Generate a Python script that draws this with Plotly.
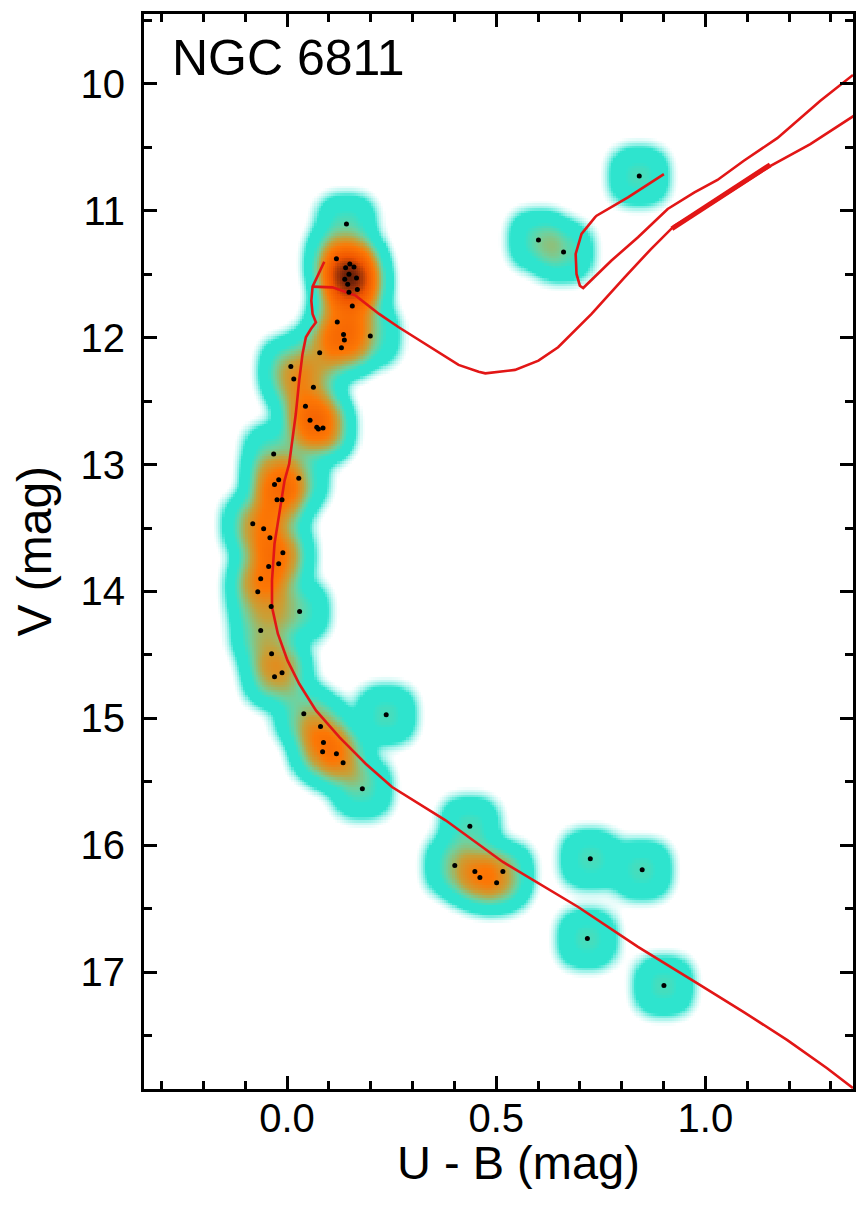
import numpy as np
import plotly.graph_objects as go

# ---------------- data ----------------
# member stars (U-B, V)
star_ub = [0.142, 0.118, 0.160, 0.166, 0.168, 0.148, 0.156, 0.120, 0.135, 0.137,
           0.130, 0.199, 0.078, 0.009, 0.016, 0.063, 0.044, 0.055, 0.071, 0.075,
           0.086, -0.032, -0.020, 0.028, -0.030, -0.024, -0.012, -0.082, -0.056, -0.041,
           -0.010, -0.020, -0.044, -0.063, -0.070, -0.038, 0.030, -0.063, -0.037, -0.012,
           -0.030, 0.040, 0.237, 0.080, 0.087, 0.085, 0.118, 0.134, 0.180,
           0.437, 0.401, 0.449, 0.461, 0.516, 0.501, 0.725, 0.849, 0.718, 0.901,
           0.842, 0.601, 0.661,
           0.140, 0.148, 0.138, 0.150, 0.145]
star_v = [11.105, 11.378, 11.443, 11.530, 11.620, 11.643, 11.750, 11.877, 11.976, 12.018,
          12.080, 11.987, 12.120, 12.228, 12.325, 12.390, 12.540, 12.650, 12.706, 12.720,
          12.711, 12.916, 13.120, 13.108, 13.157, 13.278, 13.278, 13.467, 13.506, 13.577,
          13.695, 13.782, 13.803, 13.900, 14.003, 14.118, 14.157, 14.307, 14.490, 14.640,
          14.672, 14.963, 14.971, 15.063, 15.189, 15.262, 15.278, 15.350, 15.554,
          15.850, 16.160, 16.207, 16.254, 16.207, 16.294, 16.105, 16.192, 16.735, 17.105,
          10.727, 11.231, 11.325,
          11.450, 11.500, 11.540, 11.420, 11.580]

# isochrone: main sequence + turn-off hook
iso_ms_ub = [1.353, 1.291, 1.196, 1.090, 0.982, 0.839, 0.696, 0.516, 0.379, 0.315,
             0.251, 0.188, 0.125, 0.069, 0.029, 0.001, -0.022, -0.036, -0.036, -0.030,
             -0.014, -0.006, 0.005, 0.010, 0.021, 0.029, 0.037, 0.045, 0.057, 0.069,
             0.061, 0.058, 0.059, 0.061, 0.089]
iso_ms_v = [17.913, 17.756, 17.535, 17.310, 17.089, 16.800, 16.486, 16.131, 15.803, 15.672,
            15.541, 15.357, 15.147, 14.937, 14.727, 14.543, 14.333, 14.123, 13.913, 13.624,
            13.310, 13.126, 12.995, 12.863, 12.600, 12.339, 12.128, 11.997, 11.932, 11.880,
            11.813, 11.709, 11.630, 11.598, 11.402]
# subgiant + red giant branch
iso_rgb_ub = [0.061, 0.109, 0.164, 0.220, 0.267, 0.340, 0.410, 0.458, 0.474, 0.545,
              0.601, 0.648, 0.728, 0.807, 0.870, 0.926, 1.013, 1.156, 1.251, 1.355]
iso_rgb_v = [11.598, 11.604, 11.669, 11.813, 11.918, 12.070, 12.215, 12.268, 12.281, 12.254,
             12.181, 12.076, 11.813, 11.525, 11.302, 11.118, 10.948, 10.646, 10.475, 10.252]
# core helium burning loop
iso_he_ub = [1.353, 1.275, 1.172, 1.092, 1.029, 0.974, 0.910, 0.839, 0.775, 0.708,
             0.700, 0.692, 0.690, 0.704, 0.736, 0.740, 0.815, 0.901]
iso_he_v = [9.930, 10.134, 10.428, 10.606, 10.758, 10.856, 10.986, 11.209, 11.394, 11.609,
            11.591, 11.498, 11.341, 11.183, 11.052, 11.039, 10.895, 10.711]
# early AGB (overlapping, thick)
iso_agb_ub = [0.920, 1.040, 1.155]
iso_agb_v = [11.142, 10.880, 10.638]

x_range = [-0.342, 1.353]
y_range = [17.92, 9.45]

# ---------------- density map from the stars ----------------
sx, sy = 0.0448, 0.148
gx = np.linspace(x_range[0], x_range[1], 340)
gy = np.linspace(y_range[1], y_range[0], 430)
GX, GY = np.meshgrid(gx, gy)
Z = np.zeros_like(GX)
for xu, yv in zip(star_ub, star_v):
    Z += np.exp(-0.5 * (np.abs((GX - xu) / sx) ** 2.5 + np.abs((GY - yv) / sy) ** 2.5))

zmax = max(float(Z.max()), 10.0)
stops = [(0.0, "rgb(255,255,255)"), (0.04, "rgb(255,255,255)"), (0.12, "rgb(180,245,238)"),
         (0.25, "rgb(46,228,206)"), (0.8, "rgb(46,228,206)"), (1.3, "rgb(110,210,160)"),
         (2.2, "rgb(200,160,55)"), (3.3, "rgb(252,120,5)"), (5.8, "rgb(240,85,0)"),
         (8.2, "rgb(130,40,10)"), (zmax, "rgb(35,10,0)")]
colorscale = [[t / zmax, c] for t, c in stops]

fig = go.Figure()
fig.add_trace(go.Heatmap(x=gx, y=gy, z=Z, colorscale=colorscale, zmin=0, zmax=zmax,
                         showscale=False, hoverinfo="skip"))

red = "rgb(226,22,22)"
fig.add_trace(go.Scatter(x=iso_ms_ub, y=iso_ms_v, mode="lines", line=dict(color=red, width=2.6)))
fig.add_trace(go.Scatter(x=iso_rgb_ub, y=iso_rgb_v, mode="lines", line=dict(color=red, width=2.6)))
fig.add_trace(go.Scatter(x=iso_he_ub, y=iso_he_v, mode="lines", line=dict(color=red, width=2.6)))
fig.add_trace(go.Scatter(x=iso_agb_ub, y=iso_agb_v, mode="lines", line=dict(color=red, width=5)))

fig.add_trace(go.Scatter(x=star_ub, y=star_v, mode="markers",
                         marker=dict(color="black", size=5, line=dict(width=0))))

font = "Liberation Sans, Arial, Helvetica, sans-serif"
axis_common = dict(showgrid=False, zeroline=False, showline=True, linecolor="black",
                   linewidth=3, mirror="ticks", ticks="inside", ticklen=13, tickwidth=2.5,
                   tickcolor="black", tickfont=dict(family=font, size=40, color="black"))

fig.update_xaxes(range=x_range, tick0=0, dtick=0.5, tickformat=".1f", ticklabelstandoff=-8,
                 minor=dict(dtick=0.1, tick0=0, ticks="inside", ticklen=8, tickwidth=2.5,
                            tickcolor="black"),
                 **axis_common)
fig.update_yaxes(range=y_range, tick0=10, dtick=1, ticklabelstandoff=8,
                 minor=dict(dtick=0.5, tick0=10, ticks="inside", ticklen=8, tickwidth=2.5,
                            tickcolor="black"),
                 **axis_common)

fig.update_layout(
    width=850, height=1202,
    margin=dict(l=136, r=2, t=6, b=121),
    paper_bgcolor="white", plot_bgcolor="white",
    showlegend=False,
    annotations=[
        dict(text="NGC 6811", xref="paper", yref="paper", x=0.036, y=0.9587,
             xanchor="left", yanchor="middle", showarrow=False,
             font=dict(family=font, size=50, color="black")),
        dict(text="U - B (mag)", xref="paper", yref="paper", x=0.528, y=-0.068,
             xanchor="center", yanchor="middle", showarrow=False,
             font=dict(family=font, size=47, color="black")),
        dict(text="V (mag)", xref="paper", yref="paper", x=-0.155, y=0.5,
             xanchor="center", yanchor="middle", textangle=-90, showarrow=False,
             font=dict(family=font, size=48, color="black")),
    ],
)

fig.write_html("out.html")
